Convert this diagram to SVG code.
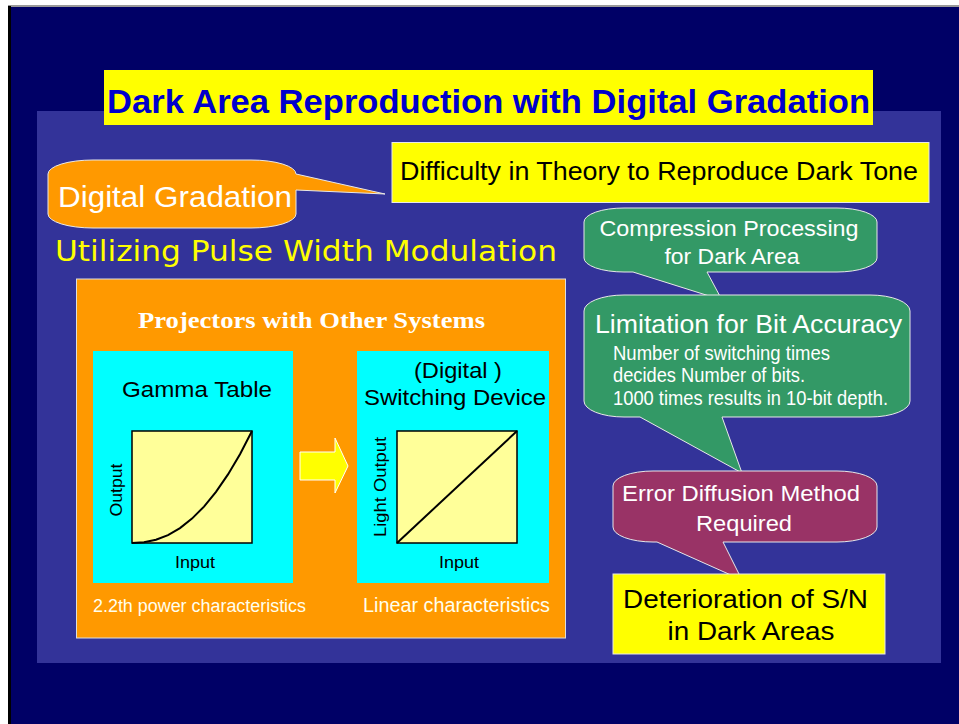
<svg xmlns="http://www.w3.org/2000/svg" width="959" height="724" viewBox="0 0 959 724">
  <style>
    .sans { font-family: "Liberation Sans", Arial, sans-serif; }
    .serif { font-family: "Liberation Serif", "Times New Roman", serif; }
    .white { fill: #FFFFFF; }
    .black { fill: #000000; }
    .mid { text-anchor: middle; }
    .bubble { stroke: #E8E8E8; stroke-width: 1; }
    .plot { fill: #FFFF99; stroke: #000000; stroke-width: 1.5; }
    .curve { fill: none; stroke: #000000; stroke-width: 2; }
  </style>

  <!-- page background -->
  <rect x="0" y="0" width="959" height="724" fill="#FFFFFF"/>
  <rect x="8" y="6" width="951" height="718" fill="#000066"/>
  <rect x="8" y="5" width="951" height="2" fill="#999999"/>
  <rect x="8" y="6" width="3" height="718" fill="#000000"/>

  <!-- inner panel -->
  <rect x="37" y="111" width="904" height="552" fill="#333399"/>

  <!-- title -->
  <g id="title">
    <rect x="104" y="70" width="769" height="55" fill="#FFFF00"/>
    <text x="488.5" y="113" class="sans mid" font-size="34" font-weight="bold" fill="#0000CC" textLength="763" lengthAdjust="spacingAndGlyphs">Dark Area Reproduction with Digital Gradation</text>
  </g>

  <!-- digital gradation callout -->
  <g id="digital-gradation">
    <path class="bubble" fill="#FF9900" d="M93,160 H251 A45 14 0 0 1 296,174 L385,194 L296,190 V214 A45 14 0 0 1 251,228 H93 A45 14 0 0 1 48,214 V174 A45 14 0 0 1 93,160 Z"/>
    <text x="58" y="207" class="sans white" font-size="29" textLength="234" lengthAdjust="spacingAndGlyphs">Digital Gradation</text>
  </g>

  <!-- difficulty box -->
  <g id="difficulty">
    <rect x="392" y="142.5" width="537" height="60" fill="#FFFF00" stroke="#E8E8E8" stroke-width="1"/>
    <text x="400" y="180" class="sans black" font-size="25" textLength="518" lengthAdjust="spacingAndGlyphs">Difficulty in Theory to Reproduce Dark Tone</text>
  </g>

  <!-- subtitle -->
  <g id="pwm">
    <text x="55" y="261" font-family="DejaVu Sans, Verdana, sans-serif" font-size="29" fill="#FFFF00" textLength="502" lengthAdjust="spacingAndGlyphs">Utilizing Pulse Width Modulation</text>
  </g>

  <!-- projectors with other systems -->
  <g id="other-systems">
    <rect x="76.5" y="279" width="489" height="359" fill="#FF9900" stroke="#DDDDDD" stroke-width="1"/>
    <text x="311.5" y="328" class="serif white mid" font-size="24" font-weight="bold" textLength="347" lengthAdjust="spacingAndGlyphs">Projectors with Other Systems</text>
    <text x="93" y="612" class="sans" fill="#FFFFEE" font-size="18" textLength="213" lengthAdjust="spacingAndGlyphs">2.2th power characteristics</text>
    <text x="363" y="612" class="sans" fill="#FFFFEE" font-size="19.5" textLength="187" lengthAdjust="spacingAndGlyphs">Linear characteristics</text>
  </g>

  <!-- gamma table -->
  <g id="gamma-table">
    <rect x="93" y="351" width="200" height="232" fill="#00FFFF"/>
    <text x="197" y="397" class="sans black mid" font-size="22" textLength="150" lengthAdjust="spacingAndGlyphs">Gamma Table</text>
    <rect class="plot" x="132" y="431" width="120" height="112"/>
    <path class="curve" d="M132,543 L144,542.3 L156,539.8 L168,535.1 L180,528.1 L192,518.6 L204,506.6 L216,491.9 L228,474.4 L240,454.2 L252,431"/>
    <text transform="translate(122,490) rotate(-90)" class="sans black mid" font-size="17" textLength="53" lengthAdjust="spacingAndGlyphs">Output</text>
    <text x="195" y="568" class="sans black mid" font-size="17" textLength="40" lengthAdjust="spacingAndGlyphs">Input</text>
  </g>

  <!-- switching device -->
  <g id="switching-device">
    <rect x="357" y="351" width="192" height="232" fill="#00FFFF"/>
    <text x="458" y="378" class="sans black mid" font-size="22" textLength="88" lengthAdjust="spacingAndGlyphs">(Digital )</text>
    <text x="455" y="405" class="sans black mid" font-size="22" textLength="182" lengthAdjust="spacingAndGlyphs">Switching Device</text>
    <rect class="plot" x="397" y="431" width="120" height="112"/>
    <line x1="397" y1="543" x2="517" y2="431" stroke="#000000" stroke-width="2"/>
    <text transform="translate(386,487) rotate(-90)" class="sans black mid" font-size="17" textLength="100" lengthAdjust="spacingAndGlyphs">Light Output</text>
    <text x="459" y="568" class="sans black mid" font-size="17" textLength="40" lengthAdjust="spacingAndGlyphs">Input</text>
  </g>

  <!-- connectors -->
  <g id="connectors">
    <path d="M300,452 H335 V438 L348,466 L335,493 V480 H300 Z" fill="#FFFF00" stroke="#FFFFFF" stroke-width="1"/>
  </g>

  <!-- compression processing callout -->
  <g id="compression">
    <path class="bubble" fill="#339966" d="M624,208 H837 A40 14 0 0 1 877,222 V258 A40 14 0 0 1 837,272 H707 L722,300 L633,272 H624 A40 14 0 0 1 584,258 V222 A40 14 0 0 1 624,208 Z"/>
    <text x="729" y="236" class="sans white mid" font-size="21.5" textLength="259" lengthAdjust="spacingAndGlyphs">Compression Processing</text>
    <text x="732" y="264" class="sans white mid" font-size="21.5" textLength="135" lengthAdjust="spacingAndGlyphs">for Dark Area</text>
  </g>

  <!-- bit accuracy callout -->
  <g id="bit-accuracy">
    <path class="bubble" fill="#339966" d="M624,295 H870 A40 16 0 0 1 910,311 V401 A40 16 0 0 1 870,417 H722 L742,473 L640,417 H624 A40 16 0 0 1 584,401 V311 A40 16 0 0 1 624,295 Z"/>
    <text x="595" y="333" class="sans white" font-size="25" textLength="307" lengthAdjust="spacingAndGlyphs">Limitation for Bit Accuracy</text>
    <text x="613" y="360" class="sans white" font-size="21" textLength="217" lengthAdjust="spacingAndGlyphs">Number of switching times</text>
    <text x="613" y="382" class="sans white" font-size="21" textLength="192" lengthAdjust="spacingAndGlyphs">decides Number of bits.</text>
    <text x="613" y="405" class="sans white" font-size="21" textLength="275" lengthAdjust="spacingAndGlyphs">1000 times results in 10-bit depth.</text>
  </g>

  <!-- error diffusion callout -->
  <g id="error-diffusion">
    <path class="bubble" fill="#993366" d="M653,471 H837 A40 15 0 0 1 877,486 V527 A40 15 0 0 1 837,542 H723 L742,580 L657,542 H653 A40 15 0 0 1 613,527 V486 A40 15 0 0 1 653,471 Z"/>
    <text x="741" y="501" class="sans white mid" font-size="22" textLength="238" lengthAdjust="spacingAndGlyphs">Error Diffusion Method</text>
    <text x="744" y="531" class="sans white mid" font-size="22" textLength="96" lengthAdjust="spacingAndGlyphs">Required</text>
  </g>

  <!-- deterioration box -->
  <g id="deterioration">
    <rect x="613" y="574" width="272" height="80" fill="#FFFF00" stroke="#E8E8E8" stroke-width="1"/>
    <text x="745.5" y="608" class="sans black mid" font-size="26" textLength="245" lengthAdjust="spacingAndGlyphs">Deterioration of S/N</text>
    <text x="751" y="640" class="sans black mid" font-size="26" textLength="167" lengthAdjust="spacingAndGlyphs">in Dark Areas</text>
  </g>
</svg>
